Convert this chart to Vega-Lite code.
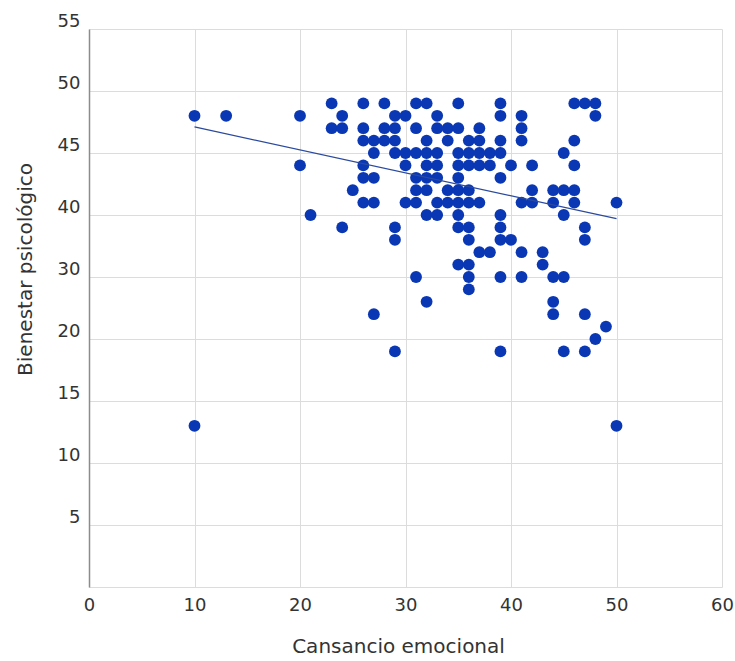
{
  "$schema": "https://vega.github.io/schema/vega-lite/v6.json",
  "width": 633,
  "height": 558,
  "autosize": {"type": "none"},
  "padding": {"left": 89, "top": 29, "right": 13, "bottom": 74},
  "background": "white",
  "config": {
    "view": {"stroke": null},
    "font": "DejaVu Sans",
    "axis": {"labelFont": "DejaVu Sans", "titleFont": "DejaVu Sans", "labelColor": "#333333", "titleColor": "#333333", "titleFontWeight": "normal", "gridColor": "#dcdcdc", "gridWidth": 1, "ticks": false}
  },
  "datasets": {
    "points": [
      {"x": 23, "y": 49}, {"x": 26, "y": 49}, {"x": 28, "y": 49}, {"x": 31, "y": 49}, {"x": 32, "y": 49}, {"x": 35, "y": 49}, {"x": 39, "y": 49}, {"x": 46, "y": 49}, {"x": 47, "y": 49}, {"x": 48, "y": 49},
      {"x": 10, "y": 48}, {"x": 13, "y": 48}, {"x": 20, "y": 48}, {"x": 24, "y": 48}, {"x": 29, "y": 48}, {"x": 30, "y": 48}, {"x": 33, "y": 48}, {"x": 39, "y": 48}, {"x": 41, "y": 48}, {"x": 48, "y": 48},
      {"x": 23, "y": 47}, {"x": 24, "y": 47}, {"x": 26, "y": 47}, {"x": 28, "y": 47}, {"x": 29, "y": 47}, {"x": 31, "y": 47}, {"x": 33, "y": 47}, {"x": 34, "y": 47}, {"x": 35, "y": 47}, {"x": 37, "y": 47}, {"x": 41, "y": 47},
      {"x": 26, "y": 46}, {"x": 27, "y": 46}, {"x": 28, "y": 46}, {"x": 29, "y": 46}, {"x": 32, "y": 46}, {"x": 34, "y": 46}, {"x": 36, "y": 46}, {"x": 37, "y": 46}, {"x": 39, "y": 46}, {"x": 41, "y": 46}, {"x": 46, "y": 46},
      {"x": 27, "y": 45}, {"x": 29, "y": 45}, {"x": 30, "y": 45}, {"x": 31, "y": 45}, {"x": 32, "y": 45}, {"x": 33, "y": 45}, {"x": 35, "y": 45}, {"x": 36, "y": 45}, {"x": 37, "y": 45}, {"x": 38, "y": 45}, {"x": 39, "y": 45}, {"x": 45, "y": 45},
      {"x": 20, "y": 44}, {"x": 26, "y": 44}, {"x": 30, "y": 44}, {"x": 32, "y": 44}, {"x": 33, "y": 44}, {"x": 35, "y": 44}, {"x": 36, "y": 44}, {"x": 37, "y": 44}, {"x": 38, "y": 44}, {"x": 40, "y": 44}, {"x": 42, "y": 44}, {"x": 46, "y": 44},
      {"x": 26, "y": 43}, {"x": 27, "y": 43}, {"x": 31, "y": 43}, {"x": 32, "y": 43}, {"x": 33, "y": 43}, {"x": 35, "y": 43}, {"x": 39, "y": 43},
      {"x": 25, "y": 42}, {"x": 31, "y": 42}, {"x": 32, "y": 42}, {"x": 34, "y": 42}, {"x": 35, "y": 42}, {"x": 36, "y": 42}, {"x": 42, "y": 42}, {"x": 44, "y": 42}, {"x": 45, "y": 42}, {"x": 46, "y": 42},
      {"x": 26, "y": 41}, {"x": 27, "y": 41}, {"x": 30, "y": 41}, {"x": 31, "y": 41}, {"x": 33, "y": 41}, {"x": 34, "y": 41}, {"x": 35, "y": 41}, {"x": 36, "y": 41}, {"x": 37, "y": 41}, {"x": 41, "y": 41}, {"x": 42, "y": 41}, {"x": 44, "y": 41}, {"x": 46, "y": 41}, {"x": 50, "y": 41},
      {"x": 21, "y": 40}, {"x": 32, "y": 40}, {"x": 33, "y": 40}, {"x": 35, "y": 40}, {"x": 39, "y": 40}, {"x": 45, "y": 40},
      {"x": 24, "y": 38}, {"x": 29, "y": 38}, {"x": 35, "y": 38}, {"x": 36, "y": 38}, {"x": 39, "y": 38}, {"x": 47, "y": 38},
      {"x": 29, "y": 36}, {"x": 36, "y": 36}, {"x": 39, "y": 36}, {"x": 40, "y": 36}, {"x": 47, "y": 36},
      {"x": 37, "y": 34}, {"x": 38, "y": 34}, {"x": 41, "y": 34}, {"x": 43, "y": 34},
      {"x": 35, "y": 32}, {"x": 36, "y": 32}, {"x": 43, "y": 32},
      {"x": 31, "y": 30}, {"x": 36, "y": 30}, {"x": 39, "y": 30}, {"x": 41, "y": 30}, {"x": 44, "y": 30}, {"x": 45, "y": 30},
      {"x": 36, "y": 28},
      {"x": 32, "y": 26}, {"x": 44, "y": 26},
      {"x": 27, "y": 24}, {"x": 44, "y": 24}, {"x": 47, "y": 24},
      {"x": 49, "y": 22},
      {"x": 48, "y": 20},
      {"x": 29, "y": 19}, {"x": 39, "y": 19}, {"x": 45, "y": 19}, {"x": 47, "y": 19},
      {"x": 10, "y": 13}, {"x": 50, "y": 13}
    ],
    "trend": [
      {"x": 10, "y": 47.1},
      {"x": 50, "y": 39.4}
    ]
  },
  "layer": [
    {
      "data": {"name": "points"},
      "mark": {"type": "circle", "size": 140, "color": "#0a37b4", "opacity": 1},
      "encoding": {
        "x": {
          "field": "x", "type": "quantitative",
          "scale": {"domain": [0, 60], "nice": false},
          "axis": {"values": [0, 10, 20, 30, 40, 50, 60], "title": "Cansancio emocional", "titleFontSize": 20, "labelFontSize": 18, "labelPadding": 9, "labelFlush": false, "titlePadding": 22, "titleX": 309, "titleAlign": "center", "domain": false, "grid": true}
        },
        "y": {
          "field": "y", "type": "quantitative",
          "scale": {"domain": [0, 20, 40, 55], "range": [558, 310, 186, 0], "nice": false, "zero": false},
          "axis": {"values": [0, 5, 10, 15, 20, 30, 40, 45, 50, 55], "labelExpr": "datum.value == 0 ? '' : datum.label", "title": "Bienestar psicológico", "titleFontSize": 20, "labelFontSize": 18, "labelPadding": 9, "labelOffset": -8, "labelFlush": false, "titleY": 240, "titleX": -54, "titleAlign": "center", "domain": true, "domainColor": "#8c8c8c", "domainWidth": 1.5, "grid": true}
        }
      }
    },
    {
      "data": {"name": "trend"},
      "mark": {"type": "line", "color": "#2b4a9e", "strokeWidth": 1.3},
      "encoding": {
        "x": {"field": "x", "type": "quantitative"},
        "y": {"field": "y", "type": "quantitative"}
      }
    }
  ]
}
